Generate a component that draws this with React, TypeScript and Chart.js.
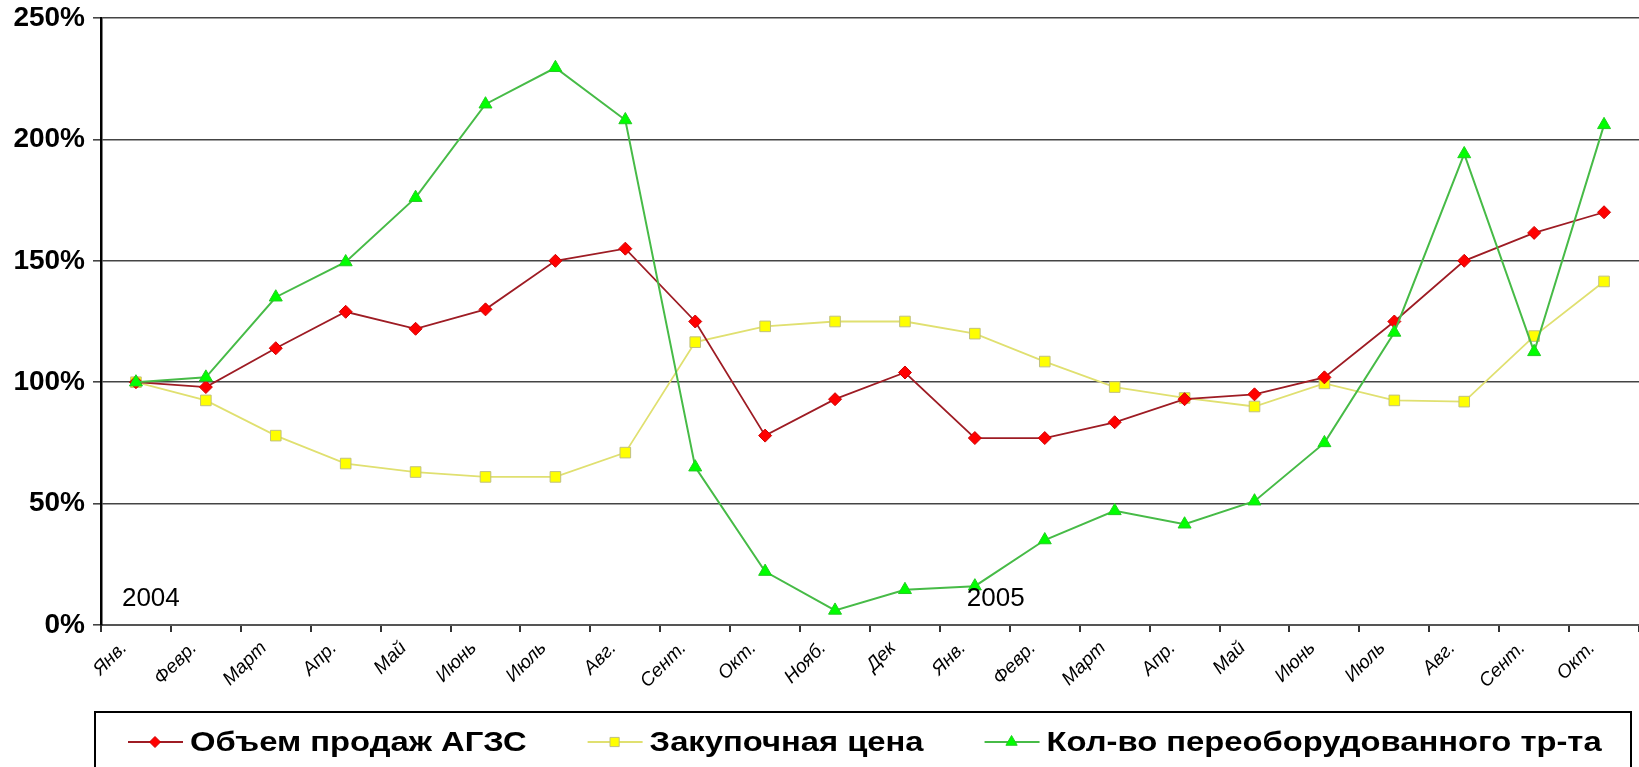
import React, { useEffect, useRef } from 'react';
import { Chart, registerables } from 'chart.js';
import { drawPoint } from 'chart.js/helpers';

Chart.register(...registerables);

const months = ['Янв.', 'Февр.', 'Март', 'Апр.', 'Май', 'Июнь', 'Июль', 'Авг.', 'Сент.', 'Окт.', 'Нояб.', 'Дек', 'Янв.', 'Февр.', 'Март', 'Апр.', 'Май', 'Июнь', 'Июль', 'Авг.', 'Сент.', 'Окт.'];
const salesVolume = [100, 98, 114, 129, 122, 130, 150, 155, 125, 78, 93, 104, 77, 77, 83.5, 93, 95, 102, 125, 150, 161.5, 170];
const purchasePrice = [100, 92.5, 78, 66.5, 63, 61, 61, 71, 116.5, 123, 125, 125, 120, 108.5, 98, 93.5, 90, 99.5, 92.5, 92, 119, 141.5];
const convertedVehicles = [100, 102, 135, 149.5, 176, 214.5, 229.5, 208, 65, 22, 6, 14.5, 16, 35, 47, 41.5, 51, 75, 120.5, 194, 112.5, 206];
const seriesNames = ['Объем продаж АГЗС', 'Закупочная цена', 'Кол-во переоборудованного тр-та'];
const yearLabels = ['2004', '2005'];
const yearIndices = [0, 12];

const FAMILY = '"Liberation Sans", Arial, Helvetica, sans-serif';

const yearPlugin = {
  id: 'yearLabels',
  afterDatasetsDraw(chart: any) {
    const { ctx, scales } = chart;
    const xs = scales.x;
    const ys = scales.y;
    ctx.save();
    ctx.fillStyle = '#000';
    ctx.font = `26px ${FAMILY}`;
    ctx.textAlign = 'left';
    ctx.textBaseline = 'alphabetic';
    const offsets = [-14, -8];
    yearLabels.forEach((t, i) => {
      ctx.fillText(t, xs.getPixelForValue(yearIndices[i]) + offsets[i], ys.getPixelForValue(7.8));
    });
    ctx.restore();
  },
};

const legendPlugin = {
  id: 'boxLegend',
  afterDraw(chart: any) {
    const { ctx, chartArea } = chart;
    ctx.save();
    const top = 712;
    const left = chartArea.left - 6;
    const right = chart.width - 8;
    ctx.strokeStyle = '#000';
    ctx.lineWidth = 2;
    ctx.strokeRect(left, top, right - left, chart.height - top + 20);
    ctx.font = `bold 28px ${FAMILY}`;
    ctx.textBaseline = 'alphabetic';
    ctx.textAlign = 'left';
    const k = 1.17;
    const cy = top + 30;
    let x = left + 33;
    chart.data.datasets.forEach((ds: any) => {
      ctx.strokeStyle = ds.borderColor;
      ctx.lineWidth = ds.borderWidth;
      ctx.beginPath();
      ctx.moveTo(x, cy);
      ctx.lineTo(x + 55, cy);
      ctx.stroke();
      ctx.fillStyle = ds.pointBackgroundColor;
      ctx.strokeStyle = ds.pointBorderColor;
      ctx.lineWidth = 1;
      drawPoint(ctx, { pointStyle: ds.pointStyle, radius: ds.pointRadius - 1, rotation: 0, borderWidth: 1 } as any, x + 27, cy);
      ctx.fillStyle = '#000';
      ctx.save();
      ctx.translate(x + 62, top + 39);
      ctx.scale(k, 1);
      ctx.fillText(ds.label, 0, 0);
      ctx.restore();
      const w = ctx.measureText(ds.label).width * k;
      x = x + 62 + w + 61;
    });
    ctx.restore();
  },
};

export default function App() {
  const ref = useRef<HTMLCanvasElement | null>(null);
  useEffect(() => {
    document.body.style.margin = '0';
    const canvas = ref.current!;
    const chart = new Chart(canvas, {
      type: 'line',
      data: {
        labels: months,
        datasets: [
          {
            label: seriesNames[0],
            data: salesVolume,
            borderColor: '#9e1c24',
            borderWidth: 1.8,
            pointStyle: 'rectRot',
            pointRadius: 6.5,
            pointBackgroundColor: '#ff0000',
            pointBorderColor: '#d00000',
            pointBorderWidth: 1,
            tension: 0,
            order: 1,
          },
          {
            label: seriesNames[1],
            data: purchasePrice,
            borderColor: '#e0e070',
            borderWidth: 1.8,
            pointStyle: 'rect',
            pointRadius: 7.5,
            pointBackgroundColor: '#ffff00',
            pointBorderColor: '#c0c080',
            pointBorderWidth: 1,
            tension: 0,
            order: 2,
          },
          {
            label: seriesNames[2],
            data: convertedVehicles,
            borderColor: '#47bb47',
            borderWidth: 2,
            pointStyle: 'triangle',
            pointRadius: 7.5,
            pointBackgroundColor: '#00ff00',
            pointBorderColor: '#22cc22',
            pointBorderWidth: 1,
            tension: 0,
            order: 0,
          },
        ],
      },
      options: {
        responsive: false,
        animation: false,
        layout: { autoPadding: false, padding: { top: 18, right: 0, left: 0, bottom: 0 } },
        plugins: {
          legend: { display: false },
          tooltip: { enabled: false },
          title: { display: false },
        },
        scales: {
          x: {
            offset: true,
            grid: {
              offset: true,
              drawOnChartArea: false,
              drawTicks: true,
              tickLength: 7,
              color: '#333',
              lineWidth: 2,
            },
            border: { color: '#555', width: 2 },
            ticks: {
              autoSkip: false,
              maxRotation: 45,
              minRotation: 45,
              color: '#000',
              padding: 5,
              labelOffset: -12,
              font: { size: 19, style: 'italic', family: FAMILY },
            },
            afterFit(scale: any) {
              scale.height = 142;
              scale.paddingLeft = 0;
              scale.paddingRight = 0;
            },
          },
          y: {
            min: 0,
            max: 250,
            ticks: {
              stepSize: 50,
              callback: (v: any) => `${v}%`,
              color: '#000',
              padding: 8,
              font: { size: 28, weight: 'bold', family: FAMILY },
            },
            grid: { color: '#444', lineWidth: 1.6, tickLength: 8, drawTicks: true },
            border: { color: '#000', width: 2.5 },
            afterFit(scale: any) {
              scale.width = 101;
              scale.paddingTop = 0;
              scale.paddingBottom = 0;
            },
          },
        },
      },
      plugins: [yearPlugin, legendPlugin],
    });
    return () => chart.destroy();
  }, []);
  return (
    <div style={{ position: 'absolute', left: 0, top: 0, width: 1639, height: 767 }}>
      <canvas ref={ref} width={1639} height={767} style={{ display: 'block' }} />
    </div>
  );
}
